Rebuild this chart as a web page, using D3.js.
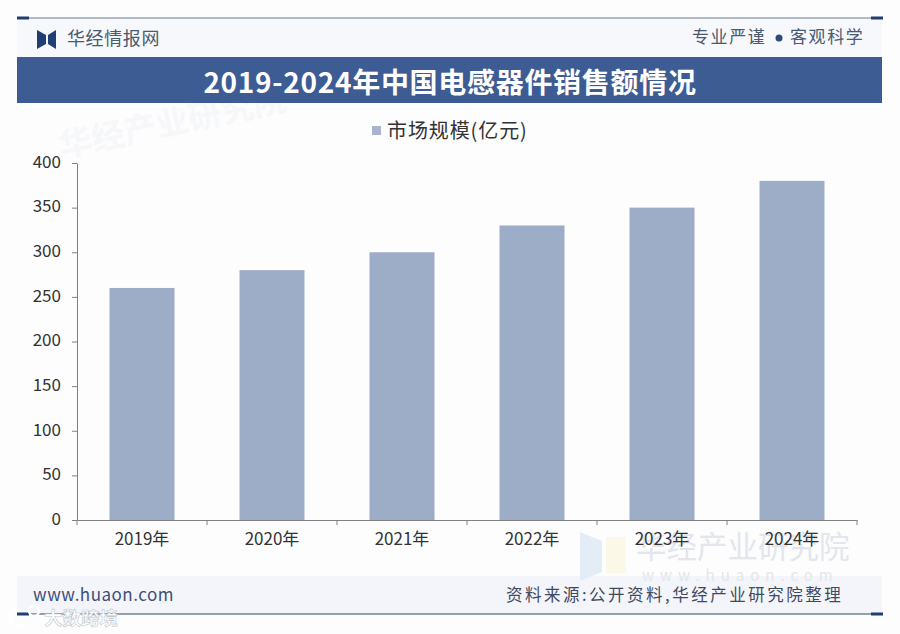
<!DOCTYPE html>
<html>
<head>
<meta charset="utf-8">
<script src="https://cdn.jsdelivr.net/npm/d3@7"></script>
<style>
html, body { margin: 0; padding: 0; background: #fdfdfe; }
svg { display: block; }
text { font-family: "Noto Sans CJK SC", "Noto Sans", sans-serif; }
</style>
</head>
<body>
<script>
const years = ['2019年', '2020年', '2021年', '2022年', '2023年', '2024年'];
const sales = [260, 280, 300, 330, 350, 380];
const yTicks = [0, 50, 100, 150, 200, 250, 300, 350, 400];

const width = 900;
const height = 634;
const plot = { left: 77, right: 857, top: 163, bottom: 520 };
const navy = '#3d5c94';
const dark = '#1f3f73';

const svg = d3.select('body')
    .append('svg')
    .attr('width', width)
    .attr('height', height);

// Page tint and footer band
svg.append('rect')
    .attr('x', 17).attr('y', 18)
    .attr('width', 865).attr('height', 40)
    .attr('fill', '#f6f8fc');

svg.append('rect')
    .attr('x', 17).attr('y', 576)
    .attr('width', 865).attr('height', 38)
    .attr('fill', '#f3f5fa');

// Faint watermarks
const marks = svg.append('g').attr('fill', '#e3e6ec');

marks.append('text')
    .attr('transform', 'translate(62,158) rotate(-12)')
    .attr('font-size', 33)
    .attr('font-weight', 700)
    .attr('fill', '#f6f7f9')
    .text('华经产业研究院');

marks.append('text')
    .attr('x', 636).attr('y', 558)
    .attr('font-size', 30.5)
    .text('华经产业研究院');

marks.append('text')
    .attr('x', 642).attr('y', 581)
    .attr('font-size', 15)
    .attr('letter-spacing', 6)
    .text('www.huaon.com');

svg.append('path')
    .attr('d', 'M580,532 L602,541 L602,572 L580,581 Z')
    .attr('fill', '#e4ecf6');

svg.append('rect')
    .attr('x', 606).attr('y', 537)
    .attr('width', 20).attr('height', 36)
    .attr('fill', '#fcf8e8');

// Header rules
[18, 614].forEach(y => {
    svg.append('line')
        .attr('x1', 17).attr('x2', 882)
        .attr('y1', y).attr('y2', y)
        .attr('stroke', y === 18 ? '#66788f' : '#33465f')
        .attr('stroke-width', 1);

    [[17, 29], [871, 883]].forEach(([x1, x2]) => {
        svg.append('line')
            .attr('x1', x1).attr('x2', x2)
            .attr('y1', y).attr('y2', y)
            .attr('stroke', dark)
            .attr('stroke-width', 3);
    });
});

// Logo
svg.append('path')
    .attr('d', 'M37,30 L46,35 L46,44 L37,49 Z')
    .attr('fill', dark);

svg.append('path')
    .attr('d', 'M56,30 L48,35 L48,44 L56,49 Z')
    .attr('fill', dark);

svg.append('text')
    .attr('x', 67).attr('y', 45)
    .attr('font-size', 18)
    .attr('letter-spacing', 0.6)
    .attr('fill', '#4a5a70')
    .text('华经情报网');

svg.append('text')
    .attr('x', 692).attr('y', 43)
    .attr('font-size', 17)
    .attr('letter-spacing', 1.6)
    .attr('fill', '#4a5a70')
    .text('专业严谨');

svg.append('circle')
    .attr('cx', 779).attr('cy', 38)
    .attr('r', 3.5)
    .attr('fill', '#2f4a78');

svg.append('text')
    .attr('x', 790).attr('y', 43)
    .attr('font-size', 17)
    .attr('letter-spacing', 1.6)
    .attr('fill', '#4a5a70')
    .text('客观科学');

// Title band
svg.append('rect')
    .attr('x', 17).attr('y', 57)
    .attr('width', 865).attr('height', 46)
    .attr('fill', navy);

svg.append('text')
    .attr('x', 450).attr('y', 93)
    .attr('text-anchor', 'middle')
    .attr('font-family', '"Liberation Serif", "Noto Sans CJK SC", sans-serif')
    .attr('font-size', 28)
    .attr('font-weight', 700)
    .attr('letter-spacing', 0.7)
    .attr('fill', '#ffffff')
    .text('2019-2024年中国电感器件销售额情况');

// Legend
svg.append('rect')
    .attr('x', 372).attr('y', 126)
    .attr('width', 9).attr('height', 9)
    .attr('fill', '#a9b3cd');

svg.append('text')
    .attr('x', 387).attr('y', 138)
    .attr('font-size', 20)
    .attr('letter-spacing', 0.9)
    .attr('fill', '#333333')
    .text('市场规模(亿元)');

// Scales
const x = d3.scaleBand()
    .domain(years)
    .range([plot.left, plot.right]);

const y = d3.scaleLinear()
    .domain([0, 400])
    .range([plot.bottom, plot.top]);

const barWidth = x.bandwidth() / 2;

svg.selectAll('.bar')
    .data(years)
    .enter()
    .append('rect')
    .attr('class', 'bar')
    .attr('x', d => x(d) + (x.bandwidth() - barWidth) / 2)
    .attr('y', (d, i) => y(sales[i]))
    .attr('width', barWidth)
    .attr('height', (d, i) => y(0) - y(sales[i]))
    .attr('fill', '#9dadc8');

// Axes
const yAxis = svg.append('g')
    .attr('transform', `translate(${plot.left},0)`)
    .call(d3.axisLeft(y).tickValues(yTicks).tickSize(5).tickPadding(11).tickSizeOuter(0));

yAxis.selectAll('text')
    .attr('font-size', 17)
    .attr('dy', '0.25em')
    .attr('fill', '#333333');

const xAxis = svg.append('g')
    .attr('transform', `translate(0,${plot.bottom})`)
    .call(d3.axisBottom(x).tickSize(0).tickPadding(13));

xAxis.selectAll('text')
    .attr('font-size', 17)
    .attr('fill', '#333333');

// Boundary ticks sit between the categories
xAxis.selectAll('.boundary')
    .data(years.concat('end'))
    .enter()
    .append('line')
    .attr('class', 'boundary')
    .attr('x1', (d, i) => plot.left + i * x.step())
    .attr('x2', (d, i) => plot.left + i * x.step())
    .attr('y1', 0)
    .attr('y2', 5)
    .attr('stroke', '#808080');

svg.selectAll('.domain, .tick line').attr('stroke', '#808080');

// Footer
svg.append('text')
    .attr('x', 33).attr('y', 601)
    .attr('font-family', '"Liberation Sans", sans-serif')
    .attr('font-size', 17)
    .attr('letter-spacing', 0.5)
    .attr('fill', '#3f4f78')
    .text('www.huaon.com');

svg.append('text')
    .attr('x', 506).attr('y', 601)
    .attr('font-size', 16.5)
    .attr('letter-spacing', 2.5)
    .attr('fill', '#3f4a5f')
    .text('资料来源:公开资料,华经产业研究院整理');

// Repost stamp, bottom left
const stamp = svg.append('g')
    .attr('fill', 'none')
    .attr('stroke', '#ffffff')
    .attr('stroke-width', 2.5);

stamp.append('path')
    .attr('d', 'M10,610 L10,624 M26,618 A8,8 0 1 1 20,610');

stamp.append('circle')
    .attr('cx', 34).attr('cy', 611).attr('r', 5);

svg.append('text')
    .attr('x', 44).attr('y', 625)
    .attr('font-size', 18.5)
    .attr('font-weight', 700)
    .attr('fill', '#ffffff')
    .attr('stroke', '#c4c8ce')
    .attr('stroke-width', 0.6)
    .text('大数跨境');
</script>
</body>
</html>
